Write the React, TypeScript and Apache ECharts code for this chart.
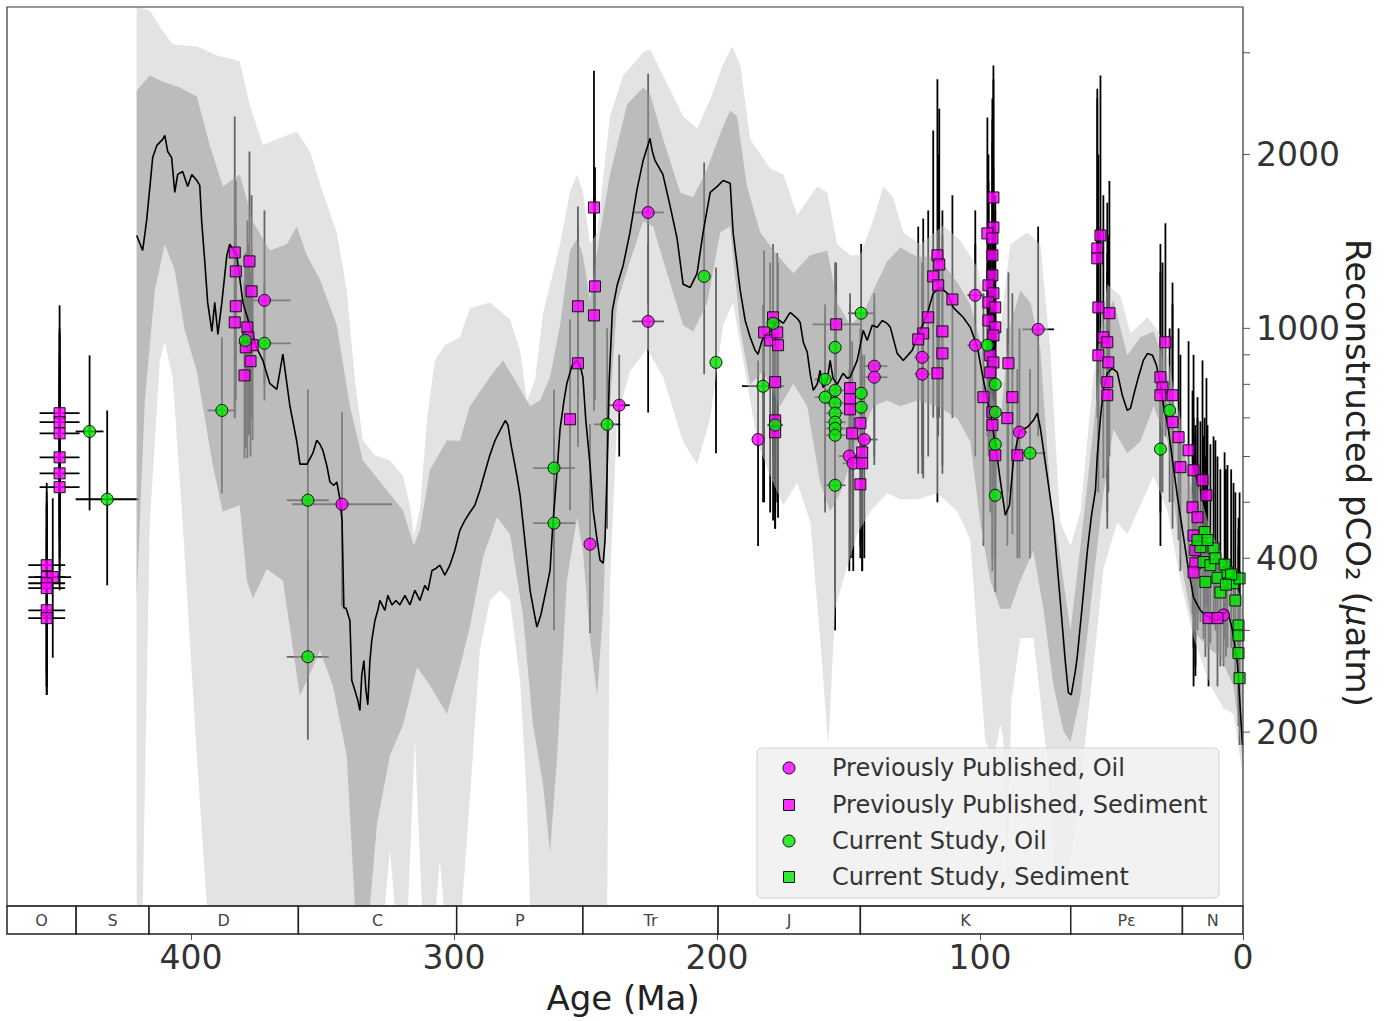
import React, { useEffect, useRef } from 'react';
import * as echarts from 'echarts';

const FONT = '"DejaVu Sans", "Liberation Sans", sans-serif';
const AGE_MAX = 470;
const PCO2_MIN = 100;
const PCO2_MAX = 3600;

// Axis ticks
const xTickValues = [0, 100, 200, 300, 400];
const yTickValues = [200, 300, 400, 500, 600, 700, 800, 900, 1000, 2000, 3000];
const yLabelValues = [200, 400, 1000, 2000];

// Geologic periods (Ma)
const periodNames = ['O', 'S', 'D', 'C', 'P', 'Tr', 'J', 'K', 'Pε', 'N'];
const periodBase = [488.3, 443.7, 416.0, 359.2, 299.0, 251.0, 199.6, 145.5, 65.5, 23.03];
const periodTop = [443.7, 416.0, 359.2, 299.0, 251.0, 199.6, 145.5, 65.5, 23.03, 0];

// Median reconstruction [age Ma, pCO2 uatm]
const medianCurve = [
  [420.7, 1448], [418.4, 1364], [416.9, 1538], [414.6, 1975], [413.0, 2074], [410.8, 2124], [410.0, 2158], [408.9, 2024],
  [407.4, 1975], [406.2, 1719], [405.1, 1847], [403.2, 1869], [401.3, 1761], [399.7, 1847], [397.8, 1803], [396.7, 1768],
  [396.0, 1538], [394.8, 1306], [393.7, 1109], [392.1, 988], [391.0, 1109], [389.8, 976], [388.3, 1109], [386.4, 1338],
  [385.3, 1398], [383.8, 1364], [382.6, 1338], [380.3, 1109], [377.7, 1012], [375.0, 923], [372.7, 880], [370.1, 803],
  [367.4, 784], [365.1, 902], [362.4, 733], [359.8, 637], [358.6, 582], [355.9, 582], [353.7, 608], [352.2, 640],
  [351.0, 630], [349.9, 615], [348.4, 579], [347.2, 542], [345.7, 535], [344.6, 542], [343.4, 506], [342.6, 465],
  [341.9, 328], [341.1, 328], [339.6, 312], [338.9, 246], [337.7, 236], [336.6, 227], [335.8, 218], [335.1, 251],
  [334.3, 266], [333.5, 236], [332.8, 223], [332.0, 266], [331.3, 288], [330.1, 312], [329.0, 325], [328.2, 338],
  [326.3, 325], [325.2, 345], [323.6, 332], [322.1, 338], [320.6, 332], [318.7, 345], [316.8, 332], [314.9, 352],
  [313.0, 338], [311.1, 359], [309.9, 352], [308.4, 381], [306.9, 384], [305.4, 389], [303.5, 374], [301.6, 389],
  [299.7, 413], [297.8, 447], [295.9, 465], [294.0, 480], [292.1, 494], [290.2, 524], [288.3, 563], [286.4, 603],
  [284.4, 640], [282.5, 666], [280.5, 693], [279.5, 680], [278.3, 627], [277.2, 591], [276.1, 555], [274.9, 514],
  [273.8, 461], [272.3, 397], [271.1, 352], [269.6, 323], [268.5, 304], [267.0, 319], [264.7, 358], [263.5, 381],
  [262.4, 461], [260.8, 568], [259.7, 669], [258.2, 750], [257.1, 803], [255.1, 863], [253.2, 880], [252.1, 863],
  [251.0, 823], [249.9, 693], [248.3, 581], [247.1, 484], [245.6, 430], [244.5, 397], [243.3, 392], [242.6, 430],
  [241.8, 568], [241.0, 813], [239.8, 1074], [238.0, 1187], [235.7, 1285], [233.1, 1466], [230.5, 1733], [228.1, 1953],
  [225.5, 2132], [224.7, 2032], [223.6, 1953], [220.6, 1847], [217.9, 1633], [215.2, 1431], [212.9, 1192], [210.2, 1177],
  [207.6, 1245], [205.3, 1466], [202.6, 1719], [199.9, 1761], [197.7, 1803], [195.0, 1783], [193.9, 1466], [191.2, 1163],
  [189.3, 1032], [187.4, 965], [185.5, 916], [184.4, 902], [182.9, 953], [181.0, 980], [179.1, 992], [177.1, 1040],
  [174.8, 1020], [172.2, 1066], [169.5, 1040], [168.4, 1024], [167.2, 946], [165.7, 909], [164.5, 829], [163.4, 781],
  [161.9, 801], [160.8, 846], [159.7, 790], [158.1, 813], [157.0, 880], [155.9, 820], [154.3, 800], [152.1, 836],
  [150.5, 820], [149.4, 823], [146.7, 880], [144.4, 992], [142.9, 953], [141.0, 1012], [139.1, 1004], [137.2, 1032],
  [135.3, 1020], [134.1, 1004], [131.5, 905], [129.2, 880], [125.8, 916], [123.9, 965], [121.9, 1012], [120.0, 1062],
  [117.8, 1150], [115.1, 1177], [112.4, 1150], [110.2, 1087], [108.3, 1066], [106.4, 1045], [103.7, 1004], [101.0, 927],
  [98.7, 813], [96.1, 713], [94.2, 632], [92.3, 546], [90.4, 475], [88.8, 494], [87.3, 591], [85.8, 640],
  [84.7, 666], [82.0, 674], [79.7, 693], [78.2, 713], [77.1, 674], [74.4, 553], [72.1, 465], [69.5, 338],
  [67.6, 266], [66.4, 234], [65.3, 232], [63.7, 256], [63.0, 271], [61.1, 332], [59.2, 411], [57.6, 475],
  [56.1, 524], [55.4, 603], [54.2, 701], [53.1, 781], [51.6, 836], [49.7, 853], [47.8, 839], [45.9, 766],
  [44.0, 721], [42.8, 727], [41.3, 775], [39.8, 823], [37.9, 880], [36.3, 905], [34.4, 898], [32.9, 863],
  [31.4, 797], [29.9, 721], [28.7, 685], [26.8, 591], [24.9, 510], [23.0, 447], [21.1, 392], [18.8, 342],
  [16.2, 325], [13.5, 317], [9.7, 312], [5.9, 325], [4.0, 300], [2.1, 263], [1.0, 218], [0.2, 190],
];

// 95% envelope
const lightUpper = [
  [420.7, 3600], [415.7, 3549], [411.2, 3291], [407.0, 3100], [397.8, 3075], [390.2, 2967], [385.3, 2932], [381.5, 2897],
  [377.7, 2441], [372.7, 2074], [367.4, 2124], [359.8, 2192], [354.8, 2024], [349.9, 1719], [344.6, 1466], [340.8, 1163],
  [337.7, 813], [334.7, 640], [330.1, 603], [324.4, 591], [319.4, 555], [316.8, 494], [315.3, 438], [313.0, 484],
  [310.3, 693], [307.3, 880], [303.5, 935], [297.8, 965], [294.0, 1083], [286.4, 1109], [278.7, 1036], [274.9, 916],
  [272.3, 750], [269.2, 813], [266.2, 1061], [259.7, 1398], [255.9, 1726], [253.2, 1847], [251.0, 1726], [248.3, 1398],
  [245.6, 1466], [240.7, 2328], [235.7, 2740], [228.1, 3003], [225.5, 3039], [220.5, 2740], [212.9, 2328], [207.6, 2218],
  [202.6, 2490], [197.7, 2862], [194.3, 3075], [191.2, 2862], [187.4, 2124], [179.8, 1892], [174.8, 1847], [169.5, 1569],
  [161.9, 1761], [158.1, 1719], [154.3, 1398], [149.4, 1338], [145.6, 1338], [140.6, 1538], [136.8, 1761], [133.0, 1686],
  [129.2, 1466], [122.7, 1398], [114.0, 1507], [107.5, 1420], [101.0, 1275], [98.0, 1118], [94.9, 880], [92.3, 992],
  [88.5, 1398], [82.0, 1466], [77.1, 1398], [73.3, 923], [69.5, 461], [65.6, 420], [61.8, 482], [56.9, 823],
  [51.6, 1192], [46.6, 1136], [42.8, 980], [36.3, 1045], [32.5, 992], [29.5, 935], [24.9, 733], [18.8, 568],
  [12.4, 447], [5.9, 389], [0.2, 338],
];
const lightLower = [
  [420.7, 100], [418.4, 100], [415.7, 461], [411.9, 880], [410.0, 946], [407.0, 823], [403.2, 461], [397.8, 182],
  [394.0, 100], [326.3, 100], [324.4, 125], [322.5, 100], [317.5, 100], [314.9, 194], [312.2, 100], [306.9, 100],
  [305.4, 120], [303.9, 100], [297.0, 100], [294.0, 153], [290.2, 277], [286.4, 338], [282.5, 352], [278.7, 338],
  [274.9, 246], [272.3, 153], [271.1, 100], [241.8, 100], [240.7, 366], [238.0, 699], [233.1, 843], [226.6, 923],
  [220.5, 823], [212.9, 637], [207.6, 582], [202.6, 699], [197.7, 1012], [193.9, 1109], [190.1, 880], [184.7, 637],
  [179.8, 555], [174.8, 494], [169.5, 541], [164.5, 461], [160.8, 290], [157.7, 190], [155.1, 327], [152.1, 366],
  [146.7, 440], [141.8, 482], [135.3, 518], [130.3, 506], [123.9, 506], [116.2, 518], [108.6, 482], [103.7, 430],
  [101.0, 291], [98.0, 194], [94.9, 179], [92.3, 206], [91.1, 194], [89.6, 111], [88.1, 227], [84.7, 291],
  [79.7, 291], [74.4, 179], [71.4, 111], [67.6, 107], [64.9, 125], [61.8, 163], [56.9, 259], [53.1, 383],
  [47.8, 461], [44.0, 440], [39.0, 494], [34.0, 555], [28.7, 482], [23.8, 366], [18.8, 291], [12.4, 241],
  [7.4, 220], [3.6, 215], [0.2, 170],
];

// 68% envelope
const darkUpper = [
  [420.7, 2581], [415.7, 2740], [410.8, 2675], [404.3, 2613], [397.8, 2520], [392.9, 2074], [387.9, 1761], [381.5, 1847],
  [376.5, 1532], [370.1, 1364], [363.6, 1398], [359.8, 1501], [356.0, 1338], [351.0, 1215], [344.6, 1012], [339.6, 733],
  [334.7, 591], [327.1, 535], [319.4, 484], [315.3, 421], [313.0, 447], [309.2, 568], [302.7, 640], [297.8, 638],
  [294.0, 733], [286.4, 823], [281.4, 880], [276.1, 803], [271.1, 733], [267.3, 750], [263.5, 823], [259.7, 1012],
  [255.9, 1364], [253.2, 1431], [251.0, 1338], [248.3, 1118], [244.5, 1466], [240.7, 1847], [234.2, 2441], [228.1, 2613],
  [225.5, 2550], [220.5, 2124], [214.0, 1719], [209.1, 1686], [203.7, 1892], [198.8, 2175], [195.0, 2384], [192.4, 2328],
  [188.6, 1761], [183.6, 1466], [177.1, 1338], [171.0, 1245], [164.6, 1338], [158.1, 1364], [154.3, 1109], [149.4, 1012],
  [144.4, 1061], [140.6, 1163], [135.3, 1306], [130.3, 1380], [123.9, 1330], [116.2, 1330], [108.6, 1200], [103.7, 1100],
  [99.9, 950], [96.1, 780], [92.3, 693], [88.5, 1012], [84.7, 1163], [80.8, 1109], [77.1, 923], [73.3, 520],
  [69.5, 400], [65.6, 300], [61.8, 420], [56.9, 669], [53.1, 1012], [49.3, 1118], [44.0, 898], [39.0, 965],
  [34.0, 988], [30.2, 880], [24.9, 699], [18.8, 506], [12.4, 412], [5.9, 366], [0.2, 327],
];
const darkLower = [
  [420.7, 338], [417.6, 750], [413.8, 1163], [410.0, 1398], [406.2, 1260], [402.4, 992], [397.8, 843], [391.8, 582],
  [388.0, 482], [381.5, 494], [378.8, 366], [376.5, 341], [371.2, 383], [365.1, 366], [358.6, 231], [353.7, 259],
  [351.0, 277], [346.1, 241], [340.8, 182], [337.7, 100], [332.0, 100], [329.3, 139], [324.4, 182], [319.4, 206],
  [314.1, 259], [309.2, 241], [302.7, 215], [297.8, 259], [294.0, 304], [289.0, 402], [283.7, 471], [278.7, 440],
  [273.8, 319], [270.0, 206], [266.2, 163], [263.5, 124], [260.8, 182], [257.1, 366], [253.2, 471], [251.0, 412],
  [248.3, 291], [245.6, 231], [243.3, 327], [240.7, 733], [238.0, 1109], [233.1, 1306], [228.1, 1532], [224.3, 1501],
  [219.0, 1245], [212.9, 1012], [209.1, 988], [203.7, 1109], [198.8, 1466], [195.0, 1501], [191.2, 1000], [187.4, 800],
  [182.5, 843], [176.0, 733], [171.0, 803], [165.7, 733], [160.8, 541], [157.0, 482], [153.2, 518], [149.4, 582],
  [144.4, 666], [140.6, 733], [135.3, 750], [130.3, 733], [123.9, 750], [116.2, 733], [108.6, 699], [103.7, 637],
  [99.9, 461], [96.1, 366], [92.3, 327], [88.5, 327], [84.7, 366], [79.7, 412], [75.9, 327], [72.1, 241],
  [68.3, 201], [65.6, 192], [61.8, 231], [56.9, 366], [53.1, 518], [49.3, 669], [44.0, 608], [39.0, 637],
  [34.0, 733], [28.7, 637], [23.8, 400], [18.8, 300], [13.5, 280], [8.6, 270], [3.6, 240], [0.2, 180],
];

// Proxy estimates [age, pCO2, age error, lower pCO2, upper pCO2]
const prevOil = [
  [372.1, 1118, 10, 800, 1600], [342.6, 496, 19, 330, 716], [248.3, 423, 0, 297, 682], [237.2, 736, 4, 600, 900],
  [226.2, 1587, 6, 1100, 2760], [226.2, 1028, 6, 715, 1400], [184.4, 642, 0, 420, 880], [140.2, 860, 5, 600, 1150],
  [140.2, 823, 5, 580, 1100], [144.0, 642, 5, 400, 900], [149.7, 601, 4, 380, 850], [148.2, 584, 4, 380, 800],
  [122.0, 891, 3, 600, 1300], [122.0, 833, 3, 560, 1250], [101.8, 1141, 3, 750, 1600], [101.8, 935, 3, 600, 1400],
  [77.9, 996, 6, 650, 1500], [85.0, 661, 3, 400, 1000], [7.4, 319, 2, 260, 400],
];
const prevSed = [
  [450.0, 713, 7.6, 470, 1096], [450.0, 688, 7.6, 450, 1000], [450.0, 658, 7.6, 430, 980], [450.0, 598, 7.6, 400, 900],
  [450.0, 561, 7.6, 380, 860], [450.0, 531, 7.6, 352, 820], [454.9, 389, 7.0, 232, 540], [454.9, 371, 7.0, 240, 520],
  [452.6, 371, 7.0, 269, 508], [454.9, 362, 7.0, 250, 500], [454.9, 355, 7.0, 255, 490], [454.9, 325, 7.0, 240, 450],
  [454.9, 315, 7.0, 232, 430],
  [383.4, 1353, 0, 699, 2326], [383.0, 1255, 0, 800, 1800], [377.8, 1306, 0, 653, 2024], [377.0, 1159, 0, 700, 1700],
  [383.0, 1092, 0, 750, 1500], [383.4, 1024, 0, 700, 1450], [378.6, 1004, 0, 596, 1537], [378.2, 965, 0, 653, 1400],
  [376.6, 935, 0, 640, 1300], [379.2, 927, 0, 620, 1350], [377.4, 877, 0, 600, 1250], [379.7, 829, 0, 596, 1200],
  [255.9, 696, 0, 484, 1036], [252.9, 870, 0, 623, 1626], [252.9, 1092, 0, 750, 1500], [246.8, 1619, 0, 1000, 2791],
  [246.4, 1182, 0, 750, 1900], [246.8, 1053, 0, 720, 1700],
  [178.7, 1045, 0, 465, 1400], [182.1, 984, 0, 500, 1364], [179.8, 953, 0, 480, 1300], [176.8, 935, 0, 470, 1300],
  [177.1, 984, 0, 500, 1350], [177.9, 807, 0, 600, 1050], [177.9, 693, 0, 480, 950], [177.9, 661, 0, 450, 900],
  [154.7, 1016, 9, 750, 1300], [149.4, 788, 0, 440, 1150], [149.4, 754, 0, 420, 1100], [149.4, 724, 0, 400, 1050],
  [145.5, 685, 0, 420, 1000], [148.6, 658, 0, 400, 950], [144.8, 610, 0, 380, 900], [144.8, 584, 0, 380, 850],
  [145.5, 537, 0, 400, 700],
  [116.2, 1338, 0, 700, 2700], [115.5, 1290, 0, 700, 2400], [117.8, 1230, 0, 700, 2200], [115.9, 1187, 0, 650, 2000],
  [110.5, 1122, 0, 700, 1700], [119.7, 1045, 0, 600, 1600], [121.6, 980, 0, 550, 1550], [123.5, 957, 0, 560, 1500],
  [114.3, 988, 0, 580, 1600], [114.3, 905, 0, 560, 1450], [116.2, 836, 0, 500, 1350],
  [94.9, 1685, 0, 1000, 2851], [94.9, 1495, 0, 900, 2700], [97.2, 1460, 0, 850, 2317], [95.3, 1431, 0, 850, 2500],
  [95.3, 1338, 0, 800, 2300], [95.3, 1235, 0, 750, 2100], [96.8, 1187, 0, 700, 2000], [94.9, 1150, 0, 700, 1900],
  [96.8, 1109, 0, 650, 1800], [94.2, 1087, 0, 650, 1700], [96.8, 1032, 0, 600, 1650], [94.2, 1004, 0, 600, 1600],
  [94.9, 972, 0, 560, 1500], [96.1, 898, 0, 520, 1400], [94.9, 873, 0, 500, 1350], [96.1, 839, 0, 480, 1300],
  [89.2, 870, 0, 520, 1250], [98.7, 760, 0, 420, 1150], [87.7, 760, 0, 440, 1150], [95.3, 716, 0, 400, 1100],
  [89.6, 699, 0, 420, 1000], [95.3, 680, 0, 380, 1000], [94.2, 603, 0, 350, 900], [85.8, 603, 0, 400, 850],
  [54.2, 1448, 0, 800, 2740], [55.4, 1375, 0, 750, 2600], [55.4, 1322, 0, 700, 2500], [55.0, 1087, 0, 600, 2000],
  [50.8, 1062, 0, 600, 1800], [53.1, 965, 0, 550, 1700], [51.6, 946, 0, 550, 1650], [55.0, 898, 0, 520, 1500],
  [51.2, 873, 0, 520, 1450], [51.6, 807, 0, 480, 1350], [51.6, 766, 0, 450, 1250],
  [29.5, 946, 0, 650, 1520], [31.4, 823, 0, 520, 1400], [30.6, 790, 0, 520, 1300], [31.4, 766, 0, 480, 1250],
  [26.8, 766, 0, 500, 1200], [26.8, 688, 0, 450, 1100], [24.5, 648, 0, 430, 1000], [20.7, 615, 0, 400, 950],
  [23.8, 575, 0, 380, 900], [18.8, 568, 0, 380, 900], [15.4, 546, 0, 360, 880], [13.9, 514, 0, 330, 820],
  [19.2, 490, 0, 320, 780], [17.3, 471, 0, 300, 760], [18.8, 438, 0, 280, 700], [18.1, 413, 0, 260, 680],
  [18.1, 392, 0, 250, 650], [18.8, 378, 0, 240, 620], [13.1, 315, 0, 240, 420], [9.7, 315, 0, 240, 420],
];
const curOil = [
  [438.6, 663, 5.3, 484, 898], [431.9, 506, 12, 359, 721], [388.3, 721, 5.5, 518, 965], [379.4, 953, 0, 700, 1300],
  [372.1, 942, 10, 750, 1200], [355.6, 504, 8, 338, 784], [355.6, 270, 8, 194, 397], [262.0, 573, 8, 355, 784],
  [262.0, 460, 8, 300, 650], [241.8, 682, 5, 450, 1000], [204.9, 1230, 0, 833, 1937], [200.4, 873, 0, 608, 1275],
  [178.7, 1020, 0, 600, 1300], [182.5, 794, 8, 500, 1100], [177.9, 680, 3, 450, 950], [155.1, 927, 0, 600, 1300],
  [145.2, 1062, 5, 700, 1400], [158.9, 816, 4, 500, 1100], [158.9, 760, 4, 480, 1050], [155.1, 781, 4, 450, 1100],
  [155.1, 742, 4, 420, 1050], [155.1, 713, 4, 400, 1000], [155.1, 688, 4, 380, 980], [155.1, 671, 4, 360, 950],
  [155.1, 653, 4, 350, 930], [145.2, 772, 0, 450, 1050], [145.2, 730, 0, 430, 1000], [155.1, 535, 4, 300, 750],
  [97.2, 935, 0, 650, 1300], [94.2, 800, 0, 500, 1150], [94.2, 716, 0, 450, 1050], [94.2, 630, 0, 400, 950],
  [81.0, 608, 6, 400, 850], [94.2, 514, 0, 350, 700], [27.9, 721, 0, 500, 1000], [31.4, 618, 0, 420, 900],
];
const curSed = [
  [14.6, 444, 0, 330, 700], [16.2, 418, 0, 310, 690], [15.0, 394, 0, 290, 650], [11.2, 416, 0, 310, 650],
  [12.4, 389, 0, 285, 630], [14.3, 364, 0, 270, 600], [9.7, 370, 0, 275, 600], [5.9, 378, 0, 280, 580],
  [8.6, 349, 0, 260, 570], [3.6, 362, 0, 270, 540], [2.9, 338, 0, 250, 520], [1.3, 369, 0, 275, 520],
  [1.7, 306, 0, 230, 470], [1.7, 294, 0, 220, 450], [1.7, 274, 0, 205, 420], [1.3, 248, 0, 190, 380],
  [17.3, 430, 0, 320, 700], [13.5, 430, 0, 320, 680], [10.5, 400, 0, 300, 640], [7.0, 390, 0, 290, 610],
  [4.5, 375, 0, 280, 570], [6.5, 360, 0, 270, 570],
];

const legendLabels = [
  'Previously Published, Oil',
  'Previously Published, Sediment',
  'Current Study, Oil',
  'Current Study, Sediment',
];

const MAGENTA = 'rgba(255, 0, 255, 0.8)';
const GREEN = 'rgba(0, 232, 0, 0.8)';
const EDGE = '#111';

function bandSeries(upper: number[][], lower: number[][], fill: string, z: number) {
  return {
    type: 'custom',
    xAxisIndex: 0,
    yAxisIndex: 0,
    z,
    silent: true,
    clip: true,
    data: [[upper[0][0], upper[0][1]]],
    encode: { x: 0, y: 1 },
    renderItem: (_params: any, api: any) => {
      const pts = upper
        .map((p) => api.coord(p))
        .concat(lower.slice().reverse().map((p) => api.coord(p)));
      return { type: 'polygon', shape: { points: pts }, style: { fill, stroke: 'none' } };
    },
  };
}

function scatterSeries(name: string, rows: number[][], symbol: string, size: number, color: string) {
  return {
    type: 'scatter',
    name,
    xAxisIndex: 0,
    yAxisIndex: 0,
    z: 6,
    silent: true,
    symbol,
    symbolSize: size,
    itemStyle: { color, borderColor: EDGE, borderWidth: 1, opacity: 1 },
    data: rows.map((r) => [r[0], r[1]]),
  };
}

export default function App() {
  const ref = useRef<HTMLDivElement>(null);

  useEffect(() => {
    if (!ref.current) return;
    const chart = echarts.init(ref.current, undefined, { renderer: 'svg' });
    const allPoints = [...prevOil, ...prevSed, ...curOil, ...curSed];

    const legendRowsY = [768, 805, 841, 877];
    const legendSymbols = ['circle', 'rect', 'circle', 'rect'];
    const legendColors = [MAGENTA, MAGENTA, GREEN, GREEN];
    const legendGraphics: any[] = [
      {
        type: 'rect',
        z: 100,
        shape: { x: 757, y: 748, width: 462, height: 150, r: 5 },
        style: { fill: 'rgba(240,240,240,0.85)', stroke: '#d2d2d2', lineWidth: 1 },
      },
    ];
    legendLabels.forEach((label, i) => {
      const y = legendRowsY[i];
      if (legendSymbols[i] === 'circle') {
        legendGraphics.push({
          type: 'circle',
          z: 101,
          shape: { cx: 789, cy: y, r: 6 },
          style: { fill: legendColors[i], stroke: EDGE, lineWidth: 1 },
        });
      } else {
        legendGraphics.push({
          type: 'rect',
          z: 101,
          shape: { x: 783.5, y: y - 5.5, width: 11, height: 11 },
          style: { fill: legendColors[i], stroke: EDGE, lineWidth: 1 },
        });
      }
      legendGraphics.push({
        type: 'text',
        z: 101,
        x: 832,
        y,
        style: {
          text: label,
          fill: '#333',
          font: `24px ${FONT}`,
          align: 'left',
          verticalAlign: 'middle',
        },
      });
    });

    const option: any = {
      animation: false,
      backgroundColor: '#fff',
      grid: [
        { left: 7, top: 7, width: 1236, height: 899, show: false },
        { left: 7, top: 906, width: 1236, height: 28, show: false },
      ],
      xAxis: [
        { type: 'value', gridIndex: 0, min: 0, max: AGE_MAX, inverse: true, show: false },
        {
          type: 'value',
          gridIndex: 1,
          min: 0,
          max: AGE_MAX,
          interval: 100,
          inverse: true,
          axisLine: { show: false },
          splitLine: { show: false },
          axisTick: { show: true, length: 6, lineStyle: { color: '#555', width: 1 }, customValues: xTickValues },
          axisLabel: {
            customValues: xTickValues,
            fontSize: 33,
            fontFamily: FONT,
            color: '#333',
            margin: 7,
            formatter: (v: number) => (v % 100 === 0 ? String(v) : ''),
          },
        },
      ],
      yAxis: [
        { type: 'log', logBase: 10, gridIndex: 0, min: PCO2_MIN, max: PCO2_MAX, show: false },
        { type: 'value', gridIndex: 1, min: 0, max: 1, show: false },
      ],
      series: [
        // error bars sit beneath the envelopes so they read grey inside them
        {
          type: 'custom',
          xAxisIndex: 0,
          yAxisIndex: 0,
          z: 1,
          silent: true,
          clip: true,
          dimensions: ['age', 'pco2', 'ageErr', 'low', 'high'],
          encode: { x: 0, y: 1 },
          data: allPoints,
          renderItem: (_params: any, api: any) => {
            const age = api.value(0);
            const v = api.value(1);
            const ae = api.value(2);
            const c = api.coord([age, v]);
            const top = api.coord([age, api.value(4)]);
            const bot = api.coord([age, api.value(3)]);
            const children: any[] = [
              {
                type: 'line',
                shape: { x1: c[0], y1: top[1], x2: c[0], y2: bot[1] },
                style: { stroke: '#000', lineWidth: 1.8 },
              },
            ];
            if (ae > 0) {
              const l = api.coord([age + ae, v]);
              const r = api.coord([age - ae, v]);
              children.push({
                type: 'line',
                shape: { x1: l[0], y1: c[1], x2: r[0], y2: c[1] },
                style: { stroke: '#000', lineWidth: 1.8 },
              });
            }
            return { type: 'group', children };
          },
        },
        bandSeries(lightUpper, lightLower, 'rgba(200,200,200,0.5)', 2),
        bandSeries(darkUpper, darkLower, 'rgba(150,150,150,0.5)', 3),
        {
          type: 'line',
          xAxisIndex: 0,
          yAxisIndex: 0,
          z: 4,
          silent: true,
          showSymbol: false,
          symbol: 'none',
          data: medianCurve,
          lineStyle: { color: '#000', width: 1.6 },
        },
        scatterSeries(legendLabels[0], prevOil, 'circle', 12, MAGENTA),
        scatterSeries(legendLabels[1], prevSed, 'rect', 11, MAGENTA),
        scatterSeries(legendLabels[2], curOil, 'circle', 12, GREEN),
        scatterSeries(legendLabels[3], curSed, 'rect', 11, GREEN),
        // right-hand log ticks and labels
        {
          type: 'custom',
          xAxisIndex: 0,
          yAxisIndex: 0,
          z: 10,
          silent: true,
          clip: false,
          data: yTickValues.map((v) => [0, v]),
          encode: { x: 0, y: 1 },
          renderItem: (_params: any, api: any) => {
            const v = api.value(1);
            const p = api.coord([0, v]);
            const children: any[] = [
              {
                type: 'line',
                shape: { x1: p[0], y1: p[1], x2: p[0] + 7, y2: p[1] },
                style: { stroke: '#555', lineWidth: 1 },
              },
            ];
            if (yLabelValues.indexOf(v) >= 0) {
              children.push({
                type: 'text',
                x: p[0] + 13,
                y: p[1],
                style: {
                  text: String(v),
                  fill: '#333',
                  font: `33px ${FONT}`,
                  align: 'left',
                  verticalAlign: 'middle',
                },
              });
            }
            return { type: 'group', children };
          },
        },
        // geologic time scale strip
        {
          type: 'custom',
          xAxisIndex: 1,
          yAxisIndex: 1,
          z: 10,
          silent: true,
          clip: false,
          dimensions: ['base', 'top', 'mid', 'idx'],
          encode: { x: [0, 1], y: 2 },
          data: periodNames.map((_n, i) => [Math.min(periodBase[i], AGE_MAX), periodTop[i], 0.5, i]),
          renderItem: (_params: any, api: any) => {
            const b = api.value(0);
            const t = api.value(1);
            const i = api.value(3);
            const p1 = api.coord([b, 1]);
            const p2 = api.coord([t, 0]);
            return {
              type: 'group',
              children: [
                {
                  type: 'rect',
                  shape: { x: p1[0], y: p1[1], width: p2[0] - p1[0], height: p2[1] - p1[1] },
                  style: { fill: '#fff', stroke: '#222', lineWidth: 1.5 },
                },
                {
                  type: 'text',
                  x: (p1[0] + p2[0]) / 2,
                  y: (p1[1] + p2[1]) / 2,
                  style: {
                    text: periodNames[i],
                    fill: '#444',
                    font: `16px ${FONT}`,
                    align: 'center',
                    verticalAlign: 'middle',
                  },
                },
              ],
            };
          },
        },
      ],
      graphic: [
        {
          type: 'rect',
          z: 50,
          silent: true,
          shape: { x: 7, y: 7, width: 1236, height: 899 },
          style: { fill: 'none', stroke: '#333', lineWidth: 1.2 },
        },
        ...legendGraphics,
        {
          type: 'text',
          z: 100,
          x: 623,
          y: 998,
          style: {
            text: 'Age (Ma)',
            fill: '#222',
            font: `34px ${FONT}`,
            align: 'center',
            verticalAlign: 'middle',
          },
        },
        {
          type: 'text',
          z: 100,
          x: 1358,
          y: 473,
          rotation: -Math.PI / 2,
          style: {
            text: '{a|Reconstructed pCO₂ (}{i|μ}{a|atm)}',
            align: 'center',
            verticalAlign: 'middle',
            rich: {
              a: { fontSize: 34, fontFamily: FONT, fill: '#222' },
              i: { fontSize: 34, fontFamily: FONT, fontStyle: 'italic', fill: '#222' },
            },
          },
        },
      ],
    };

    chart.setOption(option);
    return () => chart.dispose();
  }, []);

  return (
    <div
      ref={ref}
      style={{ position: 'absolute', left: 0, top: 0, width: 1394, height: 1021, background: '#fff' }}
    />
  );
}
